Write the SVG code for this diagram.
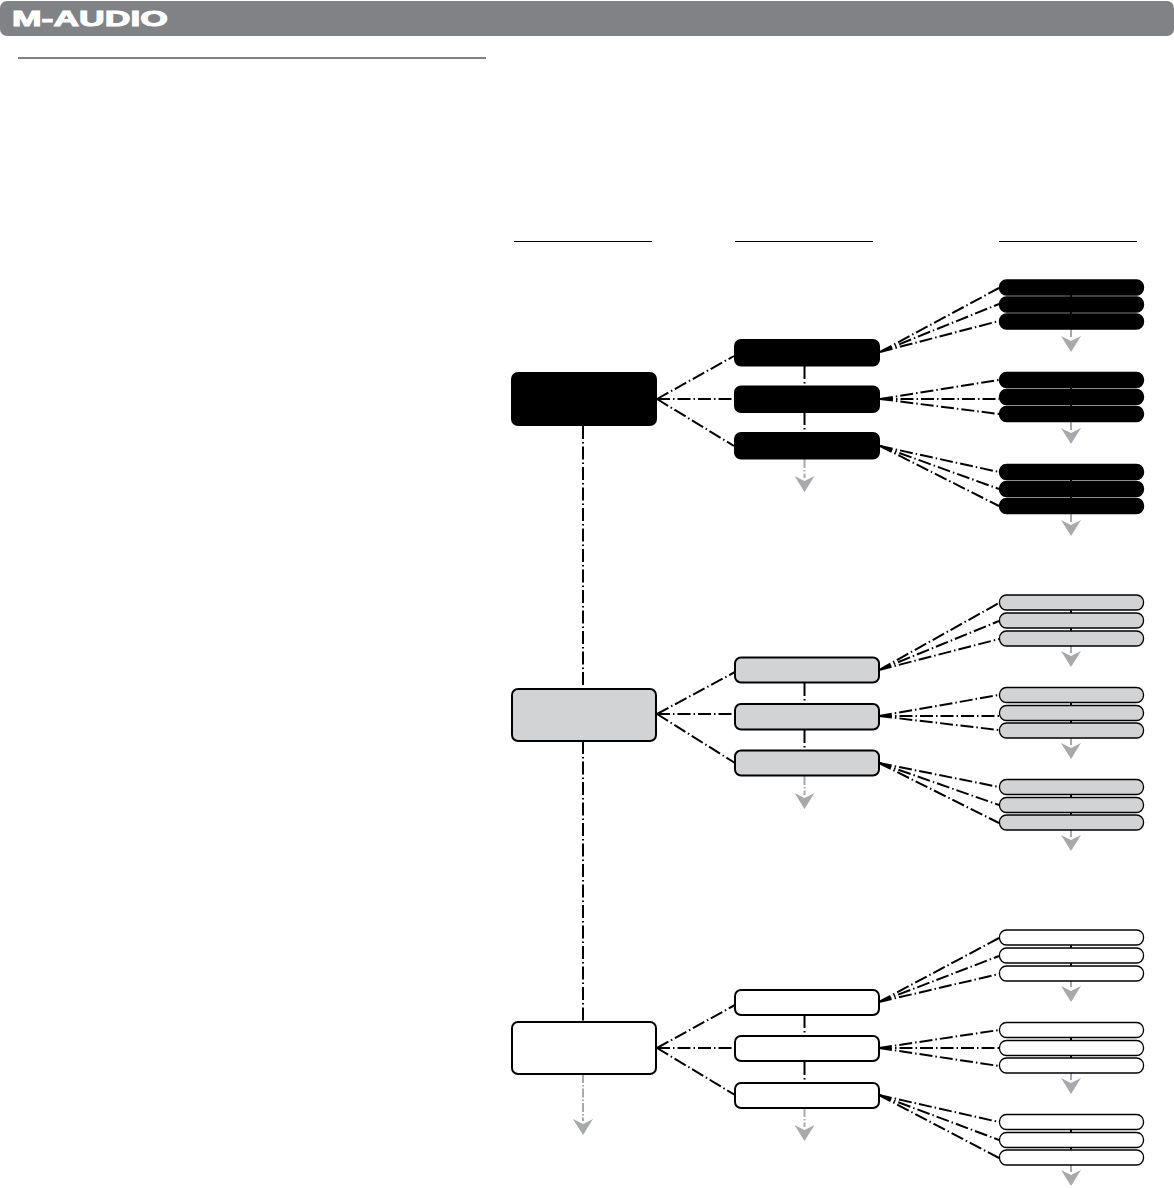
<svg xmlns="http://www.w3.org/2000/svg" width="1174" height="1188" viewBox="0 0 1174 1188">
<style>
.dd{fill:none;stroke:#000;stroke-width:2;stroke-dasharray:13 3 1.5 3}
.gd{fill:none;stroke:#a7a9ac;stroke-width:2;stroke-dasharray:9 2 1.5 2}
.v{fill:none;stroke:#000;stroke-width:2}
.rule{stroke:#000;stroke-width:1}
.k{stroke:#000;fill:#000}
.g{stroke:#000;fill:#d1d3d4}
.w{stroke:#000;fill:#fff}
.b1{stroke-width:2}
.b2{stroke-width:1.3}
.ah{fill:#a7a9ac}
</style>
<defs>
<polygon id="ah" class="ah" points="-10,0 0,5 10,0 0,16"/>
</defs>
<g id="header">
<rect x="0" y="1" width="1174" height="35" rx="7" fill="#808285"/>
<text x="12" y="26" font-family="Liberation Sans, Arial, sans-serif" font-weight="700" font-size="21.500" fill="#fff" textLength="156" lengthAdjust="spacingAndGlyphs" stroke="#fff" stroke-width="1">M-AUDIO</text>
</g>
<g id="rules">
<line x1="18" y1="58" x2="486" y2="58" stroke="#808285" stroke-width="2"/>
<line class="rule" x1="514" y1="241.500" x2="652" y2="241.500"/>
<line class="rule" x1="735" y1="241.500" x2="873" y2="241.500"/>
<line class="rule" x1="999" y1="241.500" x2="1137" y2="241.500"/>
</g>
<g id="connectors">
<path class="dd" d="M657 399L734 356M657 399H734M657 399L734 446"/>
<path class="dd" d="M657 714L735 672M657 714H735M657 714L735 763"/>
<path class="dd" d="M657 1048L735 1005M657 1048H735M657 1048L735 1095"/>
<path class="dd" d="M880 352L999 288M880 352L999 304M880 352L999 321"/>
<path class="dd" d="M880 399L999 380M880 399H999M880 399L999 414"/>
<path class="dd" d="M880 446L999 472M880 446L999 489M880 446L999 506"/>
<path class="dd" d="M879 670L999 603M879 670L999 621M879 670L999 639"/>
<path class="dd" d="M879 716L999 695M879 716H999M879 716L999 730"/>
<path class="dd" d="M879 763L999 787M879 763L999 805M879 763L999 823"/>
<path class="dd" d="M879 1002L999 938M879 1002L999 956M879 1002L999 974"/>
<path class="dd" d="M879 1048L999 1030M879 1048H999M879 1048L999 1066"/>
<path class="dd" d="M879 1095L999 1122M879 1095L999 1140M879 1095L999 1158"/>
<path class="dd" d="M583 426V688M583 741V1021"/>
<path class="dd" d="M804.500 366V385M804.500 412V432M804.500 683V703M804.500 730V750M804.500 1015V1035M804.500 1062V1082"/>
<path class="v" d="M1071 288V329M1071 380V422M1071 472V514M1071 603V646M1071 695V738M1071 787V830M1071 938V981M1071 1030V1073M1071 1122V1165"/>
<path class="gd" d="M804.500 459V478M804.500 776V795M804.500 1108V1127M583 1074V1121"/>
<path class="gd" d="M1071 329V337M1071 422V430M1071 514V522M1071 646V653M1071 738V745M1071 830V837M1071 981V987M1071 1073V1080M1071 1165V1172"/>
<use href="#ah" x="804.500" y="476"/>
<use href="#ah" x="804.500" y="793"/>
<use href="#ah" x="804.500" y="1125"/>
<use href="#ah" x="583" y="1119"/>
<use href="#ah" x="1071" y="336"/>
<use href="#ah" x="1071" y="428"/>
<use href="#ah" x="1071" y="520"/>
<use href="#ah" x="1071" y="651"/>
<use href="#ah" x="1071" y="743"/>
<use href="#ah" x="1071" y="835"/>
<use href="#ah" x="1071" y="986"/>
<use href="#ah" x="1071" y="1078"/>
<use href="#ah" x="1071" y="1170"/>
</g>
<g id="node-top-black"><rect class="k b1" x="512" y="373" width="144" height="52" rx="6"/></g>
<g id="node-top-gray"><rect class="g b1" x="512" y="689" width="144" height="52" rx="6"/></g>
<g id="node-top-white"><rect class="w b1" x="512" y="1022" width="144" height="52" rx="6"/></g>
<g id="node-mid-k1"><rect class="k b1" x="735" y="340" width="144" height="25.500" rx="6"/></g>
<g id="node-mid-k2"><rect class="k b1" x="735" y="386.500" width="144" height="25.500" rx="6"/></g>
<g id="node-mid-k3"><rect class="k b1" x="735" y="433" width="144" height="25.500" rx="6"/></g>
<g id="node-mid-g1"><rect class="g b1" x="735" y="657.500" width="144" height="25" rx="6"/></g>
<g id="node-mid-g2"><rect class="g b1" x="735" y="704" width="144" height="25.500" rx="6"/></g>
<g id="node-mid-g3"><rect class="g b1" x="735" y="750.500" width="144" height="25" rx="6"/></g>
<g id="node-mid-w1"><rect class="w b1" x="735" y="990" width="144" height="25" rx="6"/></g>
<g id="node-mid-w2"><rect class="w b1" x="735" y="1036" width="144" height="25" rx="6"/></g>
<g id="node-mid-w3"><rect class="w b1" x="735" y="1083" width="144" height="25" rx="6"/></g>
<g id="node-k1"><rect class="k b2" x="999.500" y="280" width="144" height="15" rx="7"/></g>
<g id="node-k2"><rect class="k b2" x="999.500" y="297" width="144" height="15" rx="7"/></g>
<g id="node-k3"><rect class="k b2" x="999.500" y="314" width="144" height="15" rx="7"/></g>
<g id="node-k4"><rect class="k b2" x="999.500" y="372.500" width="144" height="15" rx="7"/></g>
<g id="node-k5"><rect class="k b2" x="999.500" y="389.500" width="144" height="15" rx="7"/></g>
<g id="node-k6"><rect class="k b2" x="999.500" y="406.500" width="144" height="15" rx="7"/></g>
<g id="node-k7"><rect class="k b2" x="999.500" y="464.500" width="144" height="15" rx="7"/></g>
<g id="node-k8"><rect class="k b2" x="999.500" y="481.500" width="144" height="15" rx="7"/></g>
<g id="node-k9"><rect class="k b2" x="999.500" y="498.500" width="144" height="15" rx="7"/></g>
<g id="node-g1"><rect class="g b2" x="999.500" y="595" width="144" height="15" rx="7"/></g>
<g id="node-g2"><rect class="g b2" x="999.500" y="613" width="144" height="15" rx="7"/></g>
<g id="node-g3"><rect class="g b2" x="999.500" y="631" width="144" height="15" rx="7"/></g>
<g id="node-g4"><rect class="g b2" x="999.500" y="687.500" width="144" height="15" rx="7"/></g>
<g id="node-g5"><rect class="g b2" x="999.500" y="705.500" width="144" height="15" rx="7"/></g>
<g id="node-g6"><rect class="g b2" x="999.500" y="723" width="144" height="15" rx="7"/></g>
<g id="node-g7"><rect class="g b2" x="999.500" y="779.500" width="144" height="15" rx="7"/></g>
<g id="node-g8"><rect class="g b2" x="999.500" y="797.500" width="144" height="15" rx="7"/></g>
<g id="node-g9"><rect class="g b2" x="999.500" y="815" width="144" height="15" rx="7"/></g>
<g id="node-w1"><rect class="w b2" x="999.500" y="930" width="144" height="15" rx="7"/></g>
<g id="node-w2"><rect class="w b2" x="999.500" y="948" width="144" height="15" rx="7"/></g>
<g id="node-w3"><rect class="w b2" x="999.500" y="966" width="144" height="15" rx="7"/></g>
<g id="node-w4"><rect class="w b2" x="999.500" y="1022.500" width="144" height="15" rx="7"/></g>
<g id="node-w5"><rect class="w b2" x="999.500" y="1040.500" width="144" height="15" rx="7"/></g>
<g id="node-w6"><rect class="w b2" x="999.500" y="1058" width="144" height="15" rx="7"/></g>
<g id="node-w7"><rect class="w b2" x="999.500" y="1114.500" width="144" height="15" rx="7"/></g>
<g id="node-w8"><rect class="w b2" x="999.500" y="1132.500" width="144" height="15" rx="7"/></g>
<g id="node-w9"><rect class="w b2" x="999.500" y="1150" width="144" height="15" rx="7"/></g>
</svg>
